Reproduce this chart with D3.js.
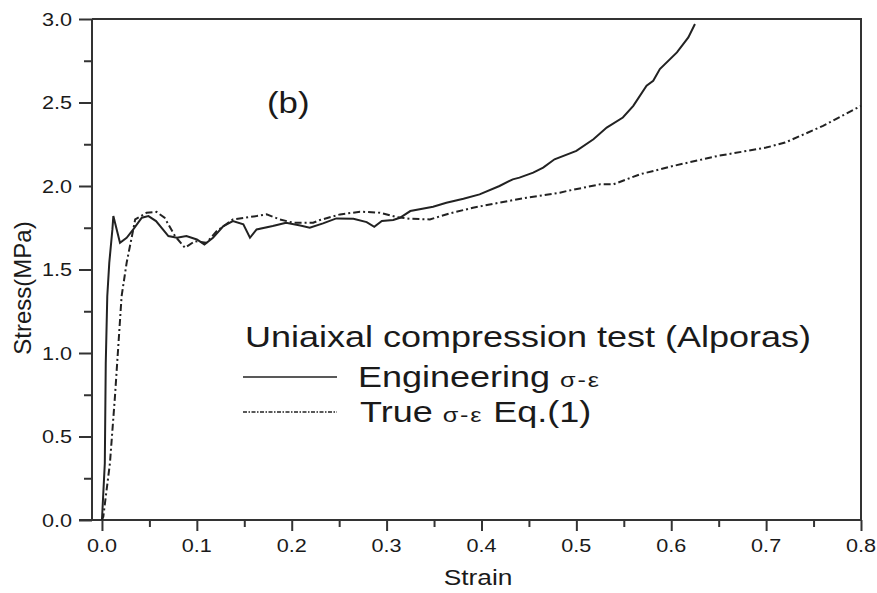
<!DOCTYPE html>
<html>
<head>
<meta charset="utf-8">
<script src="https://cdn.jsdelivr.net/npm/d3@7"></script>
<style>
  body { margin: 0; background: #fff; }
  text { font-family: "Liberation Sans", Arial, sans-serif; fill: #1a1a1a; }
</style>
</head>
<body>
<svg id="chart" width="877" height="593"></svg>
<script>
// engineering stress-strain curve
var engStrain = [0.000, 0.003, 0.004, 0.0056, 0.0077, 0.011, 0.012, 0.019, 0.026, 0.033, 0.042, 0.049,
  0.057, 0.070, 0.079, 0.089, 0.100, 0.108, 0.117, 0.128, 0.138, 0.149, 0.156, 0.163, 0.180, 0.194,
  0.209, 0.219, 0.233, 0.247, 0.265, 0.279, 0.287, 0.295, 0.307, 0.314, 0.325, 0.349, 0.363, 0.381,
  0.398, 0.419, 0.433, 0.440, 0.4545, 0.465, 0.477, 0.500, 0.518, 0.532, 0.549, 0.560, 0.574, 0.581,
  0.588, 0.606, 0.618, 0.625];
var engStress = [0.00, 0.34, 0.94, 1.34, 1.54, 1.74, 1.82, 1.66, 1.69, 1.74, 1.81, 1.82,
  1.79, 1.70, 1.69, 1.70, 1.68, 1.65, 1.69, 1.76, 1.79, 1.77, 1.69, 1.74, 1.76, 1.78,
  1.764, 1.75, 1.776, 1.806, 1.804, 1.784, 1.756, 1.79, 1.796, 1.81, 1.85, 1.876, 1.90, 1.924,
  1.95, 2.00, 2.04, 2.05, 2.08, 2.11, 2.16, 2.21, 2.28, 2.35, 2.41, 2.48, 2.60, 2.63,
  2.70, 2.80, 2.89, 2.97];

// true stress-strain, Eq.(1)
var trueStrain = [0.000, 0.0014, 0.0084, 0.0137, 0.0172, 0.0207, 0.026, 0.033, 0.035, 0.047, 0.0575,
  0.066, 0.077, 0.0875, 0.098, 0.110, 0.121, 0.138, 0.163, 0.1735, 0.1875, 0.2016, 0.2226, 0.2297,
  0.251, 0.272, 0.293, 0.3105, 0.3245, 0.3456, 0.3667, 0.391, 0.419, 0.4475, 0.4826, 0.490, 0.525,
  0.539, 0.567, 0.602, 0.630, 0.649, 0.700, 0.720, 0.760, 0.800];
var trueStress = [0.00, 0.02, 0.34, 0.74, 1.04, 1.34, 1.54, 1.74, 1.80, 1.84, 1.845,
  1.81, 1.70, 1.63, 1.67, 1.66, 1.73, 1.80, 1.82, 1.83, 1.80, 1.78, 1.78, 1.796,
  1.83, 1.846, 1.84, 1.814, 1.804, 1.80, 1.836, 1.87, 1.90, 1.93, 1.96, 1.97, 2.01,
  2.01, 2.07, 2.12, 2.156, 2.18, 2.23, 2.26, 2.36, 2.48];

var xTicks = [0, 0.1, 0.2, 0.3, 0.4, 0.5, 0.6, 0.7, 0.8];
var yTicks = [0, 0.5, 1.0, 1.5, 2.0, 2.5, 3.0];

var legendTitle = "Uniaixal compression test (Alporas)";
var seriesNames = ["Engineering ", "True "];
var seriesSuffix = ["", " Eq.(1)"];

var svg = d3.select("#chart");
var SX = 1.17;   // the original picture is stretched sideways

var x = d3.scaleLinear().domain([-0.0105, 0.8]).range([92, 861]);
var y = d3.scaleLinear().domain([0, 3]).range([520, 19]);

function stretched(sel, px, py, size, sx) {
  return sel.append("text")
    .attr("transform", "translate(" + px + "," + py + ") scale(" + (sx || SX) + ",1)")
    .style("font-size", size + "px");
}

// frame
var frame = svg.append("g").attr("stroke", "#333").attr("stroke-width", 2).attr("fill", "none");
frame.append("path").attr("d", "M" + x.range()[0] + "," + y.range()[1] + "H" + x.range()[1] + "V" + y.range()[0]);

// x axis
var xAxis = svg.append("g").attr("transform", "translate(0," + y.range()[0] + ")")
  .call(d3.axisBottom(x).tickValues(d3.range(0, 0.801, 0.05)).tickSize(7).tickFormat(""));
xAxis.selectAll(".tick line").filter(function(d) { return Math.abs(d * 10 - Math.round(d * 10)) < 1e-6; })
  .attr("y2", 11);
xAxis.select(".domain").attr("d", "M79,0H" + x.range()[1]);
xAxis.selectAll("line, path").attr("stroke", "#333").attr("stroke-width", 2);

xTicks.forEach(function(t) {
  stretched(svg, x(t), 552, 18.5).attr("text-anchor", "middle").text(t.toFixed(1));
});

// y axis
var yAxis = svg.append("g").attr("transform", "translate(" + x.range()[0] + ",0)")
  .call(d3.axisLeft(y).tickValues(d3.range(0, 3.001, 0.25)).tickSize(8).tickFormat(""));
yAxis.selectAll(".tick line").filter(function(d) { return Math.abs(d * 2 - Math.round(d * 2)) < 1e-6; })
  .attr("x2", -13);
yAxis.select(".domain").attr("d", "M0," + y.range()[1] + "V" + y.range()[0]);
yAxis.selectAll("line, path").attr("stroke", "#333").attr("stroke-width", 2);

yTicks.forEach(function(t) {
  stretched(svg, 72, y(t) + 6.5, 18.5).attr("text-anchor", "end").text(t.toFixed(1));
});

// axis titles
stretched(svg, 478, 585, 22.5).attr("text-anchor", "middle").text("Strain");
svg.append("text")
  .attr("transform", "translate(31,288) rotate(-90)")
  .attr("text-anchor", "middle")
  .style("font-size", "24px")
  .text("Stress(MPa)");

// curves
var line = d3.line().x(function(d) { return x(d[0]); }).y(function(d) { return y(d[1]); });
var engData = d3.zip(engStrain, engStress);
var trueData = d3.zip(trueStrain, trueStress);

svg.append("path").datum(trueData)
  .attr("d", line)
  .attr("fill", "none")
  .attr("stroke", "#222")
  .attr("stroke-width", 2)
  .attr("stroke-dasharray", "7,3,2,3");

svg.append("path").datum(engData)
  .attr("d", line)
  .attr("fill", "none")
  .attr("stroke", "#222")
  .attr("stroke-width", 2);

// panel label
stretched(svg, 267, 113, 29, 1.2).text("(b)");

// legend
stretched(svg, 245, 347, 30, 1.2).text(legendTitle);

var legRows = [377, 412];
legRows.forEach(function(ly, i) {
  svg.append("line")
    .attr("x1", 243).attr("x2", 337).attr("y1", ly).attr("y2", ly)
    .attr("stroke", "#222")
    .attr("stroke-width", i == 0 ? 1.6 : 1.3)
    .attr("stroke-dasharray", i == 0 ? null : "4,1.5,1.5,1.5");
  var t = stretched(svg, i == 0 ? 358 : 360, ly + 9.5, 30, 1.2);
  t.append("tspan").text(seriesNames[i]);
  t.append("tspan").style("font-size", "21px").style("letter-spacing", "1.5px").text("σ-ε");
  t.append("tspan").text(seriesSuffix[i]);
});
</script>
</body>
</html>
